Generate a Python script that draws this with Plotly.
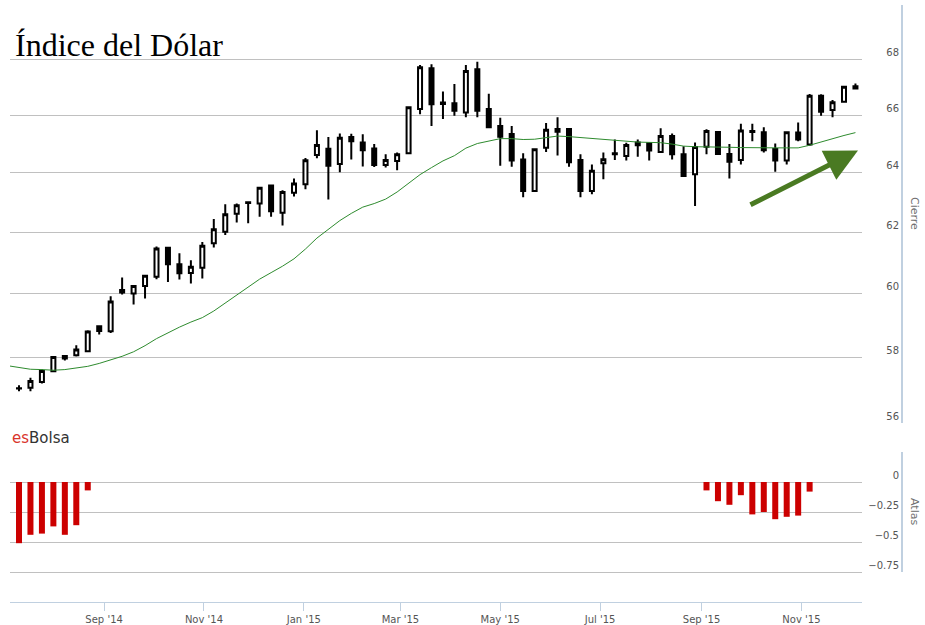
#%%
# Indice del Dolar - weekly candles, 20w moving average and Atlas indicator
import pandas as pd
import plotly.graph_objects as go

# Weekly candles (Fridays), Jul 2014 - Dec 2015
dates = pd.date_range("2014-07-11", periods=74, freq="7D")
ma_dates = pd.date_range("2014-07-04", periods=75, freq="7D")

opens = [57.04, 57.06, 57.24, 57.57, 58.04, 58.06, 58.19, 58.97, 58.81, 60.12,
         60.01, 60.25, 60.55, 61.49, 60.95, 60.67, 60.84, 61.64, 62.02, 62.62,
         63.00, 62.96, 63.57, 62.65, 63.32, 63.61, 64.61, 64.83, 64.30, 65.24,
         65.05, 64.84, 64.27, 64.41, 64.67, 66.22, 67.68, 66.45, 66.42, 66.10,
         67.64, 66.22, 65.62, 65.34, 64.46, 63.38, 64.86, 65.52, 65.52, 64.44,
         63.38, 64.33, 64.67, 64.58, 65.05, 65.02, 64.72, 65.27, 64.64, 63.95,
         64.90, 65.41, 64.65, 64.44, 65.45, 65.40, 64.82, 64.42, 65.39, 64.98,
         66.69, 66.18, 66.48, 67.03]
highs = [57.14, 57.37, 57.62, 58.04, 58.06, 58.37, 58.84, 58.97, 59.92, 60.52,
         60.28, 60.61, 61.53, 61.52, 61.31, 61.08, 61.68, 62.44, 62.94, 62.96,
         63.02, 63.53, 63.57, 63.41, 63.81, 64.51, 65.47, 65.24, 65.36, 65.35,
         65.33, 64.99, 64.64, 64.70, 66.31, 67.79, 67.82, 66.84, 67.11, 67.79,
         67.91, 66.76, 65.91, 65.62, 64.67, 64.84, 65.73, 65.93, 65.54, 64.64,
         64.29, 64.70, 65.15, 65.04, 65.15, 65.05, 65.54, 65.36, 64.92, 65.05,
         65.51, 65.44, 64.99, 65.70, 65.70, 65.58, 65.01, 65.42, 65.74, 66.75,
         66.74, 66.54, 67.01, 67.13]
lows = [56.96, 56.96, 57.19, 57.55, 57.90, 58.02, 58.17, 58.71, 58.76, 59.98,
        59.66, 59.85, 60.47, 60.38, 60.46, 60.33, 60.49, 61.50, 61.91, 62.33,
        62.30, 62.52, 62.52, 62.23, 63.20, 63.44, 64.50, 63.10, 64.02, 64.46,
        64.22, 64.20, 64.18, 64.09, 64.65, 66.03, 65.62, 65.87, 65.98, 65.93,
        65.93, 65.58, 64.24, 64.21, 63.17, 63.35, 64.72, 64.60, 64.21, 63.17,
        63.27, 63.78, 64.44, 64.42, 64.55, 64.42, 64.69, 64.46, 63.89, 62.88,
        64.64, 64.64, 63.81, 64.29, 65.09, 64.70, 64.04, 64.29, 65.09, 64.93,
        65.98, 65.93, 66.48, 66.95]
closes = [57.05, 57.27, 57.58, 58.01, 57.96, 58.24, 58.80, 58.82, 59.75, 60.04,
          60.25, 60.58, 61.47, 60.95, 60.66, 60.87, 61.56, 62.10, 62.60, 62.90,
          62.98, 63.49, 62.70, 63.35, 63.64, 64.43, 64.96, 64.24, 65.21, 65.09,
          64.78, 64.27, 64.44, 64.64, 66.28, 67.71, 66.39, 66.40, 66.16, 67.58,
          66.16, 65.58, 65.25, 64.42, 63.38, 64.81, 65.49, 65.42, 64.36, 63.38,
          64.07, 64.47, 64.64, 64.96, 64.95, 64.77, 65.27, 64.64, 63.89, 64.89,
          65.45, 64.65, 64.38, 65.46, 65.41, 64.78, 64.42, 65.40, 65.15, 66.69,
          66.12, 66.46, 67.01, 66.95]

# 20-week moving average (one extra week at the start)
ma20 = [57.74, 57.68, 57.63, 57.62, 57.60, 57.62, 57.66, 57.72, 57.81, 57.92,
        58.03, 58.17, 58.36, 58.58, 58.77, 58.94, 59.10, 59.24, 59.45, 59.70,
        59.96, 60.21, 60.47, 60.68, 60.89, 61.13, 61.45, 61.81, 62.11, 62.39,
        62.63, 62.84, 62.96, 63.11, 63.35, 63.64, 63.94, 64.18, 64.41, 64.59,
        64.85, 65.01, 65.09, 65.18, 65.18, 65.15, 65.16, 65.22, 65.27, 65.25,
        65.22, 65.18, 65.15, 65.11, 65.08, 65.06, 65.05, 65.04, 64.99, 64.92,
        64.90, 64.90, 64.89, 64.88, 64.87, 64.86, 64.86, 64.86, 64.86, 64.86,
        64.95, 65.07, 65.18, 65.29, 65.39]

# Atlas indicator (only weeks with a signal)
atlas = ([-0.51, -0.44, -0.43, -0.37, -0.44, -0.36, -0.07] + [None] * 53 +
         [-0.07, -0.16, -0.19, -0.11, -0.27, -0.25, -0.31, -0.29, -0.28, -0.08] +
         [None] * 4)

price_ticks = [56, 58, 60, 62, 64, 66, 68, 70]
price_labels = ["56", "58", "60", "62", "64", "66", "68", ""]
atlas_ticks = [-1, -0.75, -0.5, -0.25, 0, 0.25]
atlas_labels = ["", "\u22120.75", "\u22120.5", "\u22120.25", "0", ""]

# %%
# LAYOUT HELPERS
W, H = 925, 625
ML, MR, MT, MB = 10, 10, 5, 23
PW, PH = W - ML - MR, H - MT - MB


def px_x(x):
    return (x - ML) / PW


def px_y(y):
    return (H - MB - y) / PH


GRID = "#C0C0C0"
AXIS = "#C0D0E0"
LABEL = "#555555"
FONT = "DejaVu Sans"
x_end = px_x(862)
y_axis_pos = px_x(902)
x_range = ["2014-07-05 12:00", "2015-12-08 00:00"]

fig = go.Figure()

fig.add_trace(go.Candlestick(
    x=dates, open=opens, high=highs, low=lows, close=closes,
    increasing=dict(line=dict(color="black", width=2), fillcolor="white"),
    decreasing=dict(line=dict(color="black", width=2), fillcolor="black"),
    whiskerwidth=0, xaxis="x", yaxis="y", name="Cierre"
))

fig.add_trace(go.Scatter(
    x=ma_dates, y=ma20, mode="lines", line=dict(color="#2E8B2E", width=1),
    xaxis="x", yaxis="y", name="Media"
))

fig.add_trace(go.Bar(
    x=dates, y=atlas, marker=dict(color="#CC0000", line=dict(width=0)),
    width=3.67 * 86400000, xaxis="x2", yaxis="y2", name="Atlas"
))

fig.update_layout(
    template="none",
    width=W, height=H,
    margin=dict(l=ML, r=MR, t=MT, b=MB),
    paper_bgcolor="white", plot_bgcolor="white",
    showlegend=False,
    boxgap=0.5,
    xaxis=dict(type="date", domain=[0, x_end], anchor="y", range=x_range,
               showgrid=False, showticklabels=False, showline=False,
               zeroline=False, ticks="", rangeslider=dict(visible=False)),
    xaxis2=dict(type="date", domain=[0, x_end], anchor="y2", range=x_range,
                matches="x", showgrid=False, zeroline=False,
                showline=True, linecolor=AXIS, linewidth=1,
                ticks="outside", ticklen=8, tickcolor=AXIS, tickwidth=1,
                tick0="2014-09-01", dtick="M2", tickformat="%b '%y",
                tickfont=dict(family=FONT, size=10, color=LABEL),
                rangeslider=dict(visible=False)),
    yaxis=dict(type="log", domain=[px_y(423), 1],
               range=[1.748188, 1.845098],
               anchor="free", position=y_axis_pos, side="right",
               tickvals=price_ticks, ticktext=price_labels,
               ticklabelposition="inside top", ticks="",
               showgrid=True, gridcolor=GRID, gridwidth=1,
               showline=False, zeroline=False,
               tickfont=dict(family=FONT, size=10, color=LABEL)),
    yaxis2=dict(domain=[0, px_y(452)], range=[-1, 0.25],
                anchor="free", position=y_axis_pos, side="right",
                tickvals=atlas_ticks, ticktext=atlas_labels,
                ticklabelposition="inside top", ticks="",
                showgrid=True, gridcolor=GRID, gridwidth=1,
                showline=False, zeroline=False,
                tickfont=dict(family=FONT, size=10, color=LABEL)),
)

# right-hand axis lines
fig.add_shape(type="line", xref="paper", yref="y domain",
              x0=y_axis_pos, x1=y_axis_pos, y0=0, y1=1,
              line=dict(color=AXIS, width=2))
fig.add_shape(type="line", xref="paper", yref="y2",
              x0=y_axis_pos, x1=y_axis_pos, y0=-0.75, y1=0.25,
              line=dict(color=AXIS, width=2))

# titles and labels
fig.add_annotation(text="\u00cdndice del D\u00f3lar", xref="paper", yref="paper",
                   x=px_x(13), y=px_y(45), xanchor="left", yanchor="middle",
                   showarrow=False,
                   font=dict(family="Liberation Serif", size=32, color="black"))
fig.add_annotation(text="<span style='color:#D9342B'>es</span>Bolsa",
                   xref="paper", yref="paper",
                   x=px_x(10), y=px_y(438), xanchor="left", yanchor="middle",
                   showarrow=False,
                   font=dict(family=FONT, size=15, color="#333333"))
fig.add_annotation(text="Cierre", xref="paper", yref="paper",
                   x=px_x(915), y=px_y(213), xanchor="center", yanchor="middle",
                   textangle=90, showarrow=False,
                   font=dict(family=FONT, size=11, color="#707070"))
fig.add_annotation(text="Atlas", xref="paper", yref="paper",
                   x=px_x(915), y=px_y(511), xanchor="center", yanchor="middle",
                   textangle=90, showarrow=False,
                   font=dict(family=FONT, size=11, color="#707070"))

# trend arrow
fig.add_annotation(text="", xref="paper", yref="paper",
                   x=px_x(858), y=px_y(150.5), ax=-109, ay=55,
                   showarrow=True, arrowhead=2, arrowsize=1.3, arrowwidth=5,
                   arrowcolor="#4A7A22", standoff=0)

# page has a default 8px body margin; drop it so the chart sits at 0,0
fig.write_html("out.html", config={"displayModeBar": False},
               post_script="document.body.style.margin='0';")
